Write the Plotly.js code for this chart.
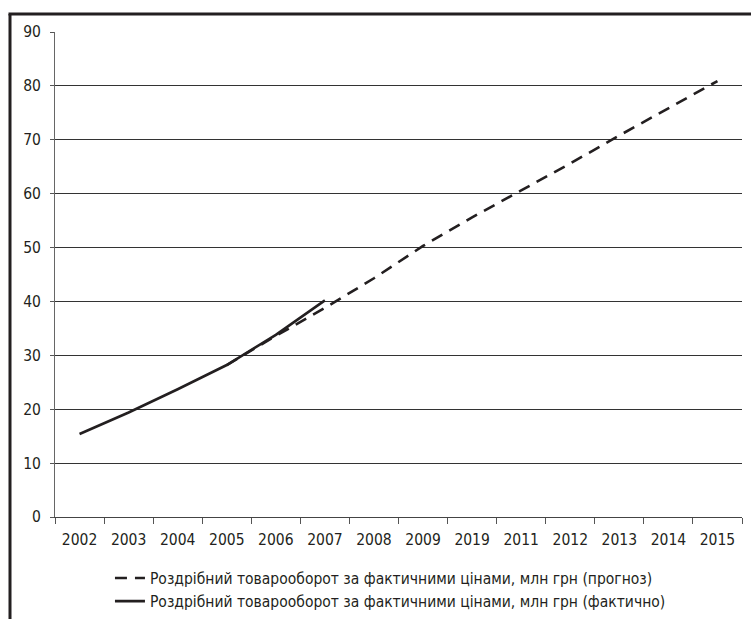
<!DOCTYPE html>
<html>
<head>
<meta charset="utf-8">
<script src="https://cdn.plot.ly/plotly-3.0.1.min.js"></script>
<style>
html,body{margin:0;padding:0;background:#fff;}
#chart{width:751px;height:619px;}
</style>
</head>
<body>
<div id="chart"></div>
<script>
// Category labels as printed on the chart
const years = ['2002','2003','2004','2005','2006','2007','2008','2009','2019','2011','2012','2013','2014','2015'];
// Actual retail turnover (solid), 2002–2007
const actualYears = ['2002','2003','2004','2005','2006','2007'];
const actualValues = [15.4, 19.4, 23.7, 28.2, 33.8, 40.2];
// Forecast retail turnover (dashed), 2005–2015
const forecastYears = ['2005','2006','2007','2008','2009','2019','2011','2012','2013','2014','2015'];
const forecastValues = [28.2, 33.6, 38.8, 44.3, 50.3, 55.6, 60.6, 65.6, 70.8, 75.9, 80.9];
const yTicks = [0,10,20,30,40,50,60,70,80,90];

const nameForecast = 'Роздрібний товарооборот за фактичними цінами, млн грн (прогноз)';
const nameActual = 'Роздрібний товарооборот за фактичними цінами, млн грн (фактично)';

const FONT = '"DejaVu Sans Condensed", "Liberation Sans Narrow", sans-serif';
const INK = '#231f20';
const FS = 15.5;

const traces = [
  {
    x: forecastYears, y: forecastValues, name: nameForecast,
    type: 'scatter', mode: 'lines',
    line: {color: INK, width: 2.6, dash: '12px,8px'}
  },
  {
    x: actualYears, y: actualValues, name: nameActual,
    type: 'scatter', mode: 'lines',
    line: {color: INK, width: 2.6}
  }
];

const layout = {
  width: 751, height: 619,
  paper_bgcolor: '#fff', plot_bgcolor: '#fff',
  margin: {l: 55, r: 9, t: 32, b: 102},
  font: {family: FONT, size: FS, color: INK},
  showlegend: true,
  legend: {
    orientation: 'v',
    x: 0.080, xanchor: 'left',
    yref: 'container', y: 0.093, yanchor: 'top',
    font: {family: FONT, size: FS, color: INK},
    bgcolor: 'rgba(0,0,0,0)',
    tracegroupgap: 0
  },
  xaxis: {
    type: 'category',
    categoryorder: 'array', categoryarray: years,
    tickvals: years, ticktext: years,
    range: [-0.5, years.length - 0.5],
    tickson: 'boundaries',
    tickangle: 0,
    ticks: 'outside', ticklen: 6, tickwidth: 1, tickcolor: '#555',
    showline: true, linecolor: '#444', linewidth: 1.2,
    showgrid: false, zeroline: false,
    ticklabelstandoff: 8,
    tickfont: {family: FONT, size: FS, color: INK}
  },
  yaxis: {
    range: [0, 90],
    tickvals: yTicks,
    ticks: 'outside', ticklen: 4, tickwidth: 1, tickcolor: '#555',
    showline: true, linecolor: '#666', linewidth: 1,
    showgrid: true, gridcolor: '#333', gridwidth: 1,
    zeroline: false,
    ticklabelstandoff: 6,
    tickfont: {family: FONT, size: FS, color: INK}
  },
  shapes: [
    // outer frame: left and top thick rules
    {type: 'line', xref: 'paper', yref: 'paper', x0: -0.0655, x1: -0.0655, y0: 1.0371, y1: -0.25,
     line: {color: INK, width: 3}},
    {type: 'line', xref: 'paper', yref: 'paper', x0: -0.0677, x1: 1.02, y0: 1.0371, y1: 1.0371,
     line: {color: INK, width: 3}}
  ]
};

Plotly.newPlot('chart', traces, layout, {displayModeBar: false, staticPlot: true});
</script>
</body>
</html>
